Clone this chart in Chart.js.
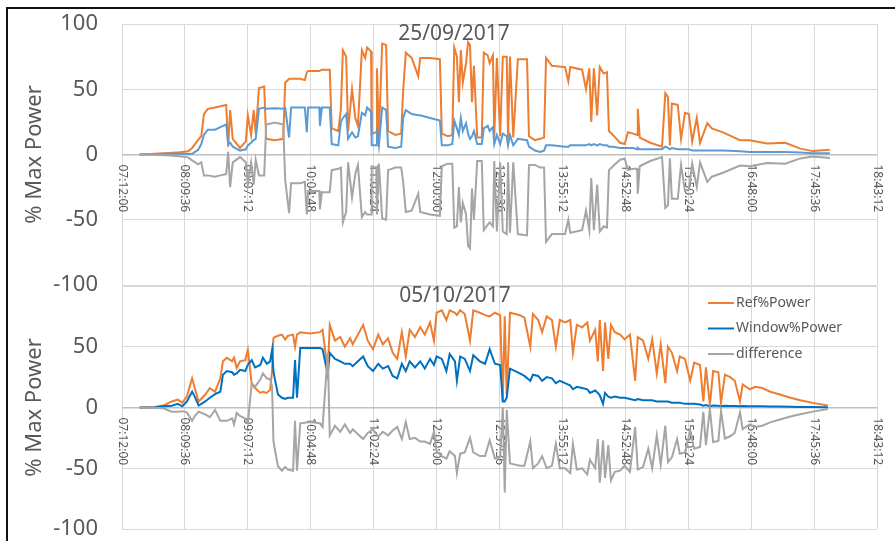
<!DOCTYPE html>
<html><head><meta charset="utf-8">
<script src="https://cdn.jsdelivr.net/npm/chart.js@4.4.1/dist/chart.umd.min.js"></script>
<style>
html,body{margin:0;padding:0;background:#fff;overflow:hidden;width:895px;height:541px;}
#frame{position:absolute;left:6px;top:7px;width:900px;height:600px;border-top:2px solid #111;border-left:2px solid #111;}
#c1{position:absolute;left:0;top:-14px;width:895px;height:337px;}
#c2{position:absolute;left:0;top:248px;width:895px;height:319px;}
</style></head><body>
<div id="frame"></div>
<canvas id="c1" width="895" height="337"></canvas>
<canvas id="c2" width="895" height="319"></canvas>
<script>
const FONT = '"Noto Sans", "Open Sans", sans-serif';
const xTickVals = [7.2, 8.16, 9.12, 10.08, 11.04, 12.0, 12.96, 13.92, 14.88, 15.84, 16.8, 17.76, 18.72];
const xTickLabels = ['07:12:00','08:09:36','09:07:12','10:04:48','11:02:24','12:00:00','12:57:36','13:55:12','14:52:48','15:50:24','16:48:00','17:45:36','18:43:12'];
const yTickVals = [-100, -50, 0, 50, 100];
const seriesNames = ['Ref%Power', 'Window%Power', 'difference'];

// ---- 25/09/2017 ----
const topTimes = [
7.47,7.63,7.86,8.08,8.21,8.27,8.36,8.41,8.45,8.51,
8.62,8.70,8.79,8.82,8.85,8.89,9.00,9.09,9.12,9.17,
9.21,9.24,9.29,9.37,9.40,9.53,9.66,9.69,9.75,9.78,
9.92,9.99,10.02,10.04,10.21,10.22,10.25,10.37,10.40,10.50,
10.54,10.57,10.62,10.65,10.71,10.76,10.80,10.86,10.91,10.94,
11.00,11.01,11.08,11.09,11.12,11.17,11.23,11.26,11.37,11.46,
11.49,11.53,11.62,11.72,11.75,11.90,12.05,12.08,12.17,12.24,
12.27,12.31,12.34,12.37,12.40,12.45,12.48,12.51,12.54,12.57,
12.62,12.69,12.72,12.78,12.81,12.86,12.88,12.92,12.97,13.01,
13.07,13.09,13.12,13.17,13.24,13.38,13.41,13.50,13.58,13.64,
13.67,13.76,13.96,14.01,14.04,14.22,14.28,14.33,14.36,14.40,
14.45,14.49,14.55,14.60,14.63,14.69,14.80,14.87,14.92,15.00,
15.06,15.07,15.10,15.26,15.44,15.49,15.53,15.56,15.59,15.68,
15.73,15.79,15.85,15.90,15.97,16.02,16.13,16.20,16.37,16.63,
16.78,17.04,17.32,17.55,17.74,18.00];
const topRef = [
0,0.3,1,1.8,2.5,5,11,14,31,35,
36,37,38,6,34,12,5,10,30,15,
34,16,51,52,12,11,12,55,58,58,
58,57,63,64,64,64,65,65,20,18,
35,80,75,18,50,28,22,80,74,82,
79,16,17,66,14,85,84,18,15,16,
49,78,74,60,74,74,73,16,14,15,
82,75,40,80,55,70,86,84,40,68,
13,13,78,76,70,76,13,74,14,75,
75,13,75,13,73,73,14,11,12,13,
74,68,67,56,67,65,50,66,25,66,
30,67,62,63,18,15,9,8,17,16,
15,35,13,9,6,47,44,7,39,38,
12,32,31,10,28,9,24,20,17,11,
11,8.5,9,4.5,2.6,3.6];
const topWindow = [
0,0.2,0.5,0.5,0.3,0.5,3.5,8,15,19,
19,21,23,8,9,6,3,4,7,9,
11,12,35,36,35,35.5,35,35.5,13,36,
36,36,17,36,36,22,36,36,8,7,
25,28,31,12,17,13,14,32,30,36,
33,7,7,20,7,36,34,6,5,6,
28,34,31,30,30,28,26,7,7,8,
26,20,15,28,18,24,16,12,14,18,
8,8,20,22,18,21,8,15,8,16,
14,7,15,7,12,11,6,3,2,3,
7,7,6,6,7,7,7,8,7,8,
7,8,7,7,6,6,5,5,5,5,
4,5,4,4,4,6,5,4,5,4,
4,4,4,3,3,3,3,3,3,2.5,
2,2,2,1.5,1,1];
const topDiff = [
0,-0.1,-0.5,-1.3,-2.2,-4.5,-7.5,-6,-16,-16,
-17,-16,-15,2,-25,-6,-2,-6,-23,-6,
-23,-4,-16,-16,23,24.5,23,-19.5,-45,-22,
-22,-21,-46,-28,-28,-42,-29,-29,-12,-11,
-10,-52,-44,-6,-33,-15,-8,-48,-44,-46,
-46,-9,-10,-46,-7,-49,-50,-12,-10,-10,
-21,-44,-43,-30,-44,-46,-47,-9,-7,-7,
-56,-55,-25,-52,-37,-46,-70,-72,-26,-50,
-5,-5,-58,-54,-52,-55,-5,-59,-6,-59,
-61,-6,-60,-6,-61,-62,-8,-8,-10,-10,
-67,-61,-61,-50,-60,-58,-43,-58,-18,-58,
-23,-59,-55,-56,-12,-9,-4,-3,-12,-11,
-11,-30,-9,-5,-2,-41,-39,-3,-34,-34,
-8,-28,-27,-7,-25,-6,-21,-17,-14,-8.5,
-9,-6.5,-7,-3,-1.6,-2.6];

// ---- 05/10/2017 ----
const botTimes = [
7.47,7.70,7.83,7.96,8.05,8.12,8.19,8.27,8.31,8.37,
8.47,8.54,8.62,8.70,8.74,8.80,8.88,8.91,8.95,9.00,
9.08,9.12,9.18,9.23,9.31,9.35,9.41,9.46,9.49,9.51,
9.53,9.58,9.64,9.69,9.73,9.81,9.84,9.87,9.92,10.07,
10.22,10.26,10.34,10.37,10.45,10.53,10.60,10.68,10.72,10.80,
10.88,10.95,11.03,11.11,11.18,11.26,11.33,11.40,11.47,11.53,
11.59,11.67,11.75,11.82,11.90,11.96,12.00,12.08,12.15,12.20,
12.28,12.31,12.36,12.43,12.51,12.56,12.66,12.74,12.81,12.89,
12.97,13.01,13.04,13.07,13.12,13.20,13.27,13.34,13.43,13.47,
13.55,13.61,13.68,13.76,13.82,13.88,13.96,14.04,14.08,14.14,
14.22,14.30,14.34,14.42,14.46,14.49,14.54,14.57,14.62,14.66,
14.72,14.80,14.87,14.95,15.03,15.07,15.15,15.23,15.29,15.36,
15.42,15.49,15.53,15.59,15.67,15.71,15.79,15.87,15.93,16.02,
16.07,16.11,16.17,16.22,16.30,16.34,16.40,16.48,16.55,16.63,
16.67,16.78,16.86,16.97,17.09,17.24,17.40,17.55,17.74,17.97];
const botRef = [
0,0.5,1.6,5,6.5,4,9,24,16,5,
10.7,16,13,24,38,41,38,41,32.5,38,
39,47.5,19,16,12,13,12,14.7,30,57,
58,59,60,56,59,60,50,60,62,61,
62,64,30,68,55,58,50,57,52,60,
68,55,48,60,52,57,45,40,62,42,
64,58,66,60,70,55,78,80,72,80,
78,76,80,77,55,80,78,76,75,78,
76,5,75,10,78,77,76,74,50,77,
72,62,75,72,50,72,70,72,45,68,
66,70,55,64,38,72,30,70,40,68,
62,60,56,60,22,58,55,40,56,28,
52,20,50,45,30,42,40,22,37,35,
5,33,2,30,29,4,27,25,22,5,
19,15,17,16,13,10.7,8,6,3.8,1.6];
const botWindow = [
0,0.3,1,1.5,3,1,5,13,9,1.6,
5,8,11,13,27,30,29,27,28,31,
30,35,39,33,35,41,36,38,47.5,30,
24,10.7,8,7,8,8,39,8,49,49,
49,48,27,45,40,38,36,36,34,38,
42,34,30,36,32,34,26,24,36,30,
38,33,38,32,40,35,42,40,30,44,
38,22,42,40,30,43,38,36,48,36,
35,5,5,8,32,30,28,26,22,27,
26,22,25,24,20,22,20,18,15,17,
16,15,12,14,12,10,3,12,9,8,
9,8,8,7,6,7,6,6,6,5,
5,5,5,4,4,4,3,3,3,2.5,
1.5,2,1,1.6,1.5,1,1.5,1.3,1.2,1,
1.2,1.1,1,1,0.8,0.8,0.6,0.5,0.4,0.3];
const botDiff = [
0,-0.2,-0.6,-3.5,-3.5,-3,-4,-11,-7,-3.4,
-5.7,-8,-2,-11,-11,-11,-9,-14,-4.5,-7,
-9,-12.5,20,17,23,28,24,23.3,17.5,-27,
-34,-48.3,-52,-49,-51,-52,-11,-52,-13,-12,
-13,-16,45,-23,-15,-20,-14,-21,-18,-22,
-26,-21,-18,-24,-20,-23,-19,-16,-26,-12,
-26,-25,-28,-28,-30,-20,-36,-40,-42,-36,
-40,-54,-38,-37,-25,-37,-40,-40,-27,-42,
-41,0,-70,-2,-46,-47,-48,-48,-28,-50,
-46,-40,-50,-48,-30,-50,-50,-54,-30,-51,
-50,-55,-43,-50,-26,-62,-27,-58,-31,-60,
-53,-52,-48,-53,-16,-51,-49,-34,-50,-23,
-47,-15,-45,-41,-26,-38,-37,-19,-34,-32.5,
-3.5,-31,-1,-28.4,-27.5,-3,-25.5,-23.7,-20.8,-4,
-17.8,-13.9,-16,-15,-12.2,-9.9,-7.4,-5.5,-3.4,-1.3];

function pts(times, vals) { return times.map((t, i) => ({ x: t, y: vals[i] })); }

const overlay = {
  id: 'overlay',
  beforeDatasetsDraw(chart, args, o) {
    const { ctx, scales: { x, y } } = chart;
    const y0 = y.getPixelForValue(0);
    ctx.save();
    ctx.font = '12px ' + FONT;
    ctx.fillStyle = '#595959';
    ctx.textAlign = 'left';
    ctx.textBaseline = 'middle';
    xTickVals.forEach((v, i) => {
      ctx.save();
      ctx.translate(x.getPixelForValue(v), y0 + 10);
      ctx.rotate(Math.PI / 2);
      ctx.fillText(xTickLabels[i], 0, 0);
      ctx.restore();
    });
    ctx.restore();
  },
  afterDraw(chart, args, o) {
    const { ctx } = chart;
    ctx.save();
    ctx.font = '21px ' + FONT;
    ctx.fillStyle = '#595959';
    ctx.textAlign = 'center';
    ctx.textBaseline = 'middle';
    ctx.fillText(o.title, o.titleX, o.titleY);
    if (o.legend) {
      ctx.font = '14px ' + FONT;
      ctx.textAlign = 'left';
      chart.data.datasets.forEach((ds, i) => {
        const yy = o.legendY + i * 25.5;
        ctx.strokeStyle = ds.borderColor;
        ctx.lineWidth = 2;
        ctx.beginPath();
        ctx.moveTo(o.legendX, yy);
        ctx.lineTo(o.legendX + 26, yy);
        ctx.stroke();
        ctx.fillStyle = '#595959';
        ctx.fillText(ds.label, o.legendX + 28, yy);
      });
    }
    ctx.restore();
  }
};

function makeChart(id, times, ref, win, diff, blue, opts) {
  return new Chart(document.getElementById(id), {
    type: 'line',
    data: {
      datasets: [
        { label: seriesNames[0], data: pts(times, ref), borderColor: '#ED7D31', borderWidth: 2, pointRadius: 0, order: 3 },
        { label: seriesNames[1], data: pts(times, win), borderColor: blue, borderWidth: 2, pointRadius: 0, order: 2 },
        { label: seriesNames[2], data: pts(times, diff), borderColor: '#A5A5A5', borderWidth: 2, pointRadius: 0, order: 1 }
      ]
    },
    options: {
      responsive: false,
      animation: false,
      events: [],
      layout: { padding: opts.padding },
      plugins: {
        legend: { display: false },
        tooltip: { enabled: false },
        overlay: opts.overlay
      },
      scales: {
        x: {
          type: 'linear', min: 7.2, max: 18.72,
          afterBuildTicks: s => { s.ticks = xTickVals.map(v => ({ value: v })); },
          ticks: { display: false },
          grid: { color: '#D9D9D9', lineWidth: 1, drawTicks: false },
          border: { display: false }
        },
        y: {
          min: -100, max: 100,
          afterBuildTicks: s => { s.ticks = yTickVals.map(v => ({ value: v })); },
          afterFit: s => { s.width = 108; },
          ticks: {
            font: { family: FONT, size: 22 }, color: '#595959', padding: 24,
            callback: v => (opts.hideTop && v === 100) ? '' : String(v)
          },
          grid: {
            color: c => (c.tick && c.tick.value === 0) ? '#BFBFBF' : '#D9D9D9',
            lineWidth: c => (c.tick && c.tick.value === 0) ? 1.6 : 1,
            drawTicks: false
          },
          border: { display: false },
          title: { display: true, text: '% Max Power', font: { family: FONT, size: 22 }, color: '#595959', padding: { top: 8, bottom: 0 } }
        }
      }
    },
    plugins: [overlay]
  });
}

makeChart('c1', topTimes, topRef, topWindow, topDiff, '#5B9BD5', {
  padding: { left: 14, top: 38, right: 18, bottom: 38 },
  hideTop: false,
  overlay: { title: '25/09/2017', titleX: 454, titleY: 48, legend: false }
});
makeChart('c2', botTimes, botRef, botWindow, botDiff, '#0070C0', {
  padding: { left: 14, top: 38, right: 18, bottom: 38 },
  hideTop: true,
  overlay: { title: '05/10/2017', titleX: 455, titleY: 48, legend: true, legendX: 708, legendY: 55 }
});
</script>
</body></html>
